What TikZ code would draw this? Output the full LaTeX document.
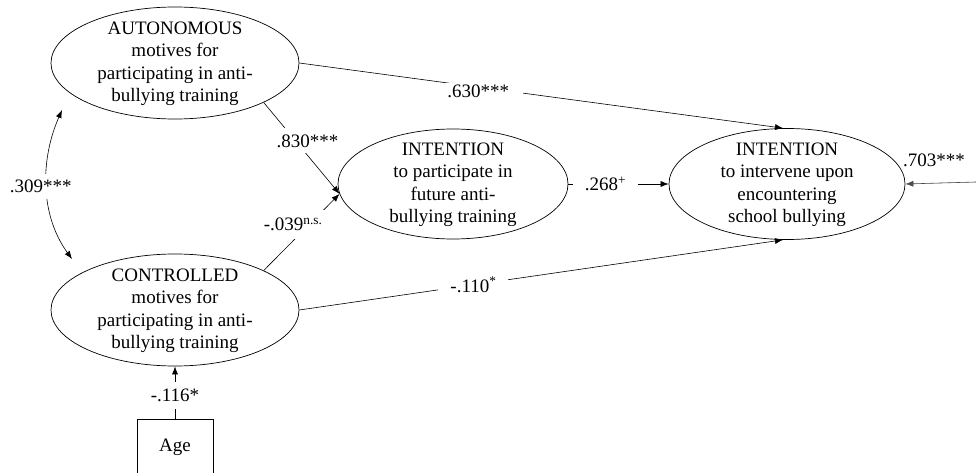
\documentclass[tikz,border=0pt]{standalone}
\usepackage{fontspec}
\setmainfont{Liberation Serif}
\usetikzlibrary{shapes.geometric,arrows.meta}
\begin{document}
\begin{tikzpicture}[x=1pt,y=-1pt,
  lat/.style={draw,ellipse,inner sep=0pt,line width=0.7pt},
  txt/.style={align=center,font=\fontsize{19}{22.5}\selectfont,inner sep=0pt},
  lab/.style={fill=white,font=\fontsize{19}{22.5}\selectfont,inner sep=2pt},
  tip/.tip={Latex[length=8pt,width=6pt]},
  arr/.style={-tip,line width=0.6pt}]
\clip (0,0) rectangle (976,473);
\fill[white] (0,0) rectangle (976,473);
% latent variables
\node[lat,minimum width=248pt,minimum height=112pt] (auto) at (175,63) {};
\node[txt] (autoT) at (175,64) {AUTONOMOUS\\motives for\\participating in anti-\\bullying training};
\node[lat,minimum width=248pt,minimum height=112pt] (ctrl) at (175,310) {};
\node[txt] (ctrlT) at (175,311) {CONTROLLED\\motives for\\participating in anti-\\bullying training};
\node[lat,minimum width=230pt,minimum height=110pt] (mid) at (453,184) {};
\node[txt] (midT) at (453,185) {INTENTION\\to participate in\\future anti-\\bullying training};
\node[lat,minimum width=236pt,minimum height=111pt] (right) at (787,184) {};
\node[txt] (rightT) at (787,185) {INTENTION\\to intervene upon\\encountering\\school bullying};
% observed
\node[draw,line width=0.6pt,minimum width=76pt,minimum height=62pt,anchor=north] (age) at (175,419) {};
\node[txt] (ageT) at (175,447) {Age};
% paths
\draw[arr] (auto.east) -- ([xshift=-4pt]right.north)
  node[lab,pos=0.37,inner xsep=14pt,yshift=-4pt] {.630***};
\draw[arr] (auto.-24) -- (mid.185)
  node[lab,pos=0.42,xshift=12pt,inner ysep=6pt] {.830***};
\draw[arr] (ctrl.24) -- (mid.185)
  node[lab,pos=0.6,xshift=-16pt,inner ysep=8pt] {-.039\textsuperscript{n.s.}};
\draw[arr] (mid.east) -- (right.west)
  node[lab,pos=0.37,inner xsep=12pt] {.268\textsuperscript{+}};
\draw[arr] (ctrl.east) -- ([xshift=-4pt]right.south)
  node[lab,pos=0.36,inner xsep=12pt] {-.110\textsuperscript{*}};
\draw[arr] (age.north) -- (ctrl.south)
  node[lab,pos=0.45,inner ysep=7pt] {-.116*};
% correlation
\coordinate (c309a) at (62,110);
\coordinate (c309b) at (72,259);
\draw[tip-tip,line width=0.6pt] (c309a) .. controls (40,160) and (40,215) .. (c309b)
  node[lab,pos=0.5,inner ysep=6pt,xshift=-6pt] {.309***};
% residual
\coordinate (res) at (976,182);
\draw[arr,draw=black!70,fill=black!70] (res) -- (right.east);
\node[txt] (resL) at (934,160) {.703***};
\end{tikzpicture}
\end{document}
